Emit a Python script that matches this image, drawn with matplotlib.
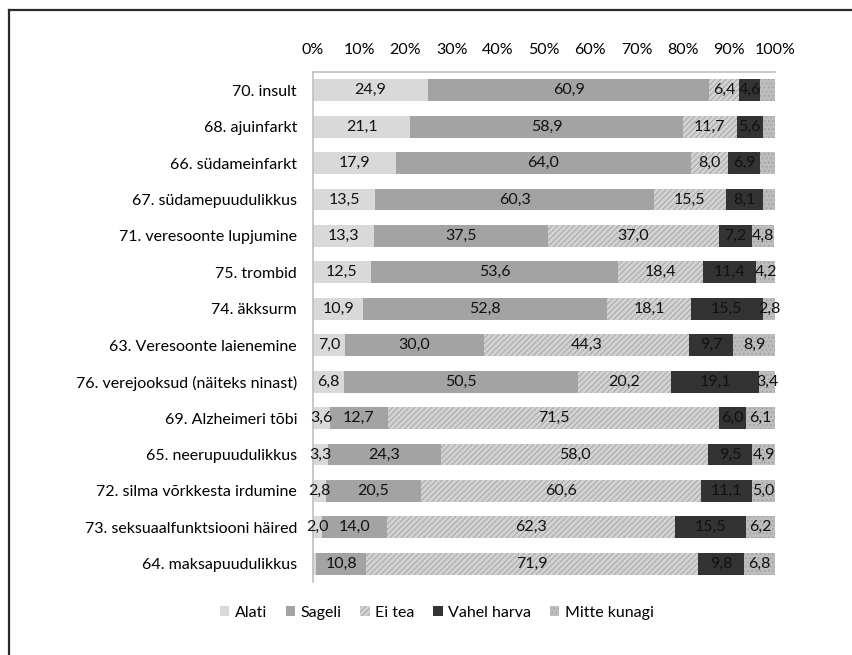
import matplotlib
matplotlib.use("Agg")
import matplotlib.pyplot as plt
from matplotlib.lines import Line2D
from matplotlib.patches import Patch
import numpy as np

plt.rcParams['font.family'] = ['Lato', 'DejaVu Sans']
plt.rcParams['hatch.linewidth'] = 0.6

categories = [
    "70. insult",
    "68. ajuinfarkt",
    "66. südameinfarkt",
    "67. südamepuudulikkus",
    "71. veresoonte lupjumine",
    "75. trombid",
    "74. äkksurm",
    "63. Veresoonte laienemine",
    "76. verejooksud (näiteks ninast)",
    "69. Alzheimeri tõbi",
    "65. neerupuudulikkus",
    "72. silma võrkkesta irdumine",
    "73. seksuaalfunktsiooni häired",
    "64. maksapuudulikkus",
]

series_names = ["Alati", "Sageli", "Ei tea", "Vahel harva", "Mitte kunagi"]

alati = [24.9, 21.1, 17.9, 13.5, 13.3, 12.5, 10.9, 7.0, 6.8, 3.6, 3.3, 2.8, 2.0, 0.7]
sageli = [60.9, 58.9, 64.0, 60.3, 37.5, 53.6, 52.8, 30.0, 50.5, 12.7, 24.3, 20.5, 14.0, 10.8]
ei_tea = [6.4, 11.7, 8.0, 15.5, 37.0, 18.4, 18.1, 44.3, 20.2, 71.5, 58.0, 60.6, 62.3, 71.9]
vahel_harva = [4.6, 5.6, 6.9, 8.1, 7.2, 11.4, 15.5, 9.7, 19.1, 6.0, 9.5, 11.1, 15.5, 9.8]
mitte_kunagi = [3.2, 2.7, 3.2, 2.6, 4.8, 4.2, 2.8, 8.9, 3.4, 6.1, 4.9, 5.0, 6.2, 6.8]

# segments printed without a value label: (row, series)
unlabeled = {(0, 4), (1, 4), (2, 4), (3, 4), (13, 0)}

series = [alati, sageli, ei_tea, vahel_harva, mitte_kunagi]
faces = ["#d9d9d9", "#a3a3a3", "#d2d2d2", "#333333", "#bdbdbd"]
hatches = [None, None, "//////", None, "...."]
hatch_cols = [None, None, "#a0a0a0", None, "#9e9e9e"]

FS = 11.5

fig = plt.figure(figsize=(8.53, 6.55), dpi=100)
ax = fig.add_axes([313 / 853, 1 - 582 / 655, 462 / 853, 510 / 655])

y = np.arange(len(categories))
left = np.zeros(len(categories))
for k, vals in enumerate(series):
    vals = np.array(vals)
    ax.barh(y, vals, left=left, height=0.6, color=faces[k],
            edgecolor=hatch_cols[k] if hatches[k] else faces[k],
            linewidth=0, hatch=hatches[k], label=series_names[k])
    for i, (l, v) in enumerate(zip(left, vals)):
        if (i, k) in unlabeled:
            continue
        ax.text(l + v / 2, i, f"{v:.1f}".replace(".", ","), ha="center",
                va="center", fontsize=FS, color="#111111")
    left = left + vals

ax.set_xlim(0, 100)
ax.set_ylim(len(categories) - 0.5, -0.5)
ax.set_yticks(y)
ax.set_yticklabels(categories, fontsize=FS)
ax.set_xticks(np.arange(0, 101, 10))
ax.set_xticklabels([f"{t}%" for t in range(0, 101, 10)], fontsize=FS)
ax.xaxis.tick_top()
ax.tick_params(axis="both", length=0)
ax.tick_params(axis="y", pad=11.5)
ax.tick_params(axis="x", pad=11)
for side in ["right", "bottom"]:
    ax.spines[side].set_visible(False)
for side in ["top", "left"]:
    ax.spines[side].set_color("#bfbfbf")
    ax.spines[side].set_linewidth(1.2)

handles = [Patch(facecolor=faces[k], edgecolor=hatch_cols[k] if hatches[k] else faces[k],
                 hatch=hatches[k], linewidth=0) for k in range(5)]
fig.legend(handles, series_names, loc="center", bbox_to_anchor=(0.512, 1 - 613 / 655),
           ncol=5, frameon=False, fontsize=FS, handlelength=0.6, handleheight=0.6,
           handletextpad=0.35, columnspacing=1.15)

# outer frame: top and left edges only
fig.add_artist(Line2D([9 / 853, 9 / 853], [0, 1 - 10 / 655], transform=fig.transFigure,
                      color="#2a2a2a", linewidth=1.6))
fig.add_artist(Line2D([9 / 853, 1], [1 - 10 / 655, 1 - 10 / 655], transform=fig.transFigure,
                      color="#2a2a2a", linewidth=1.6))

fig.savefig("out.png", dpi=100)
